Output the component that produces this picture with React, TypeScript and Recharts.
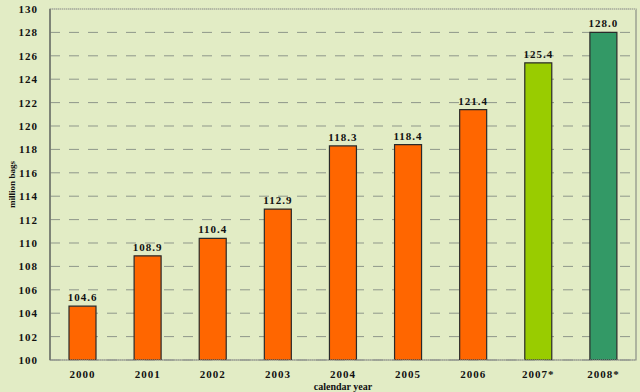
import React from "react";
import { BarChart, Bar, XAxis, YAxis, CartesianGrid, Cell, LabelList, Label, ReferenceLine, ReferenceArea } from "recharts";

const years = ["2000", "2001", "2002", "2003", "2004", "2005", "2006", "2007*", "2008*"];
const production = [104.6, 108.9, 110.4, 112.9, 118.3, 118.4, 121.4, 125.4, 128.0];
const barColors = ["#ff6600", "#ff6600", "#ff6600", "#ff6600", "#ff6600", "#ff6600", "#ff6600", "#99cc00", "#339966"];
const yTicks = [100, 102, 104, 106, 108, 110, 112, 114, 116, 118, 120, 122, 124, 126, 128, 130];

const data = years.map((y, i) => ({ year: y, value: production[i] }));

const font = "'Liberation Serif', 'Times New Roman', serif";
const tickStyle = { fontFamily: font, fontWeight: 700, fontSize: 11, fill: "#111", letterSpacing: 1 };

export default function App() {
  return (
    <div style={{ position: "absolute", left: 0, top: 0, width: 640, height: 392, background: "#e2ecc5", overflow: "hidden" }}>
      <BarChart
        width={640}
        height={392}
        data={data}
        margin={{ top: 9, right: 4, left: 8, bottom: 10 }}
        barSize={27}
      >
        <CartesianGrid horizontal vertical={false} stroke="#8f978a" strokeDasharray="10 9" />
        <ReferenceArea y1={100} y2={130} fill="none" stroke="#8a8f86" strokeWidth={1.2} />
        <ReferenceLine y={130} stroke="#d8e2bd" strokeWidth={1.5} />
        <ReferenceLine y={130} stroke="#999" strokeDasharray="1 1" />
        <XAxis
          dataKey="year"
          axisLine={{ stroke: "#999", strokeDasharray: "1 1" }}
          tickLine={false}
          tick={tickStyle}
          height={22}
          tickMargin={4}
          interval={0}
        >
          <Label value="calendar year" position="insideBottom" offset={-8} style={{ fontFamily: font, fontWeight: 700, fontSize: 10, fill: "#111" }} />
        </XAxis>
        <YAxis
          domain={[100, 130]}
          ticks={yTicks}
          axisLine={{ stroke: "#6f746a", strokeWidth: 1.5 }}
          tickLine={false}
          tick={tickStyle}
          width={42}
          tickMargin={6}
          interval={0}
          allowDataOverflow
        >
          <Label value="million bags" angle={-90} position="insideLeft" offset={4} style={{ fontFamily: font, fontWeight: 700, fontSize: 9, fill: "#111", textAnchor: "middle" }} />
        </YAxis>
        <Bar dataKey="value" stroke="#2a2a2a" strokeWidth={1.2} isAnimationActive={false}>
          {data.map((d, i) => (
            <Cell key={d.year} fill={barColors[i]} />
          ))}
          <LabelList
            dataKey="value"
            position="top"
            offset={5}
            formatter={(v: number) => v.toFixed(1)}
            style={{ fontFamily: font, fontWeight: 700, fontSize: 11, fill: "#111", letterSpacing: 1 }}
          />
        </Bar>
      </BarChart>
    </div>
  );
}
